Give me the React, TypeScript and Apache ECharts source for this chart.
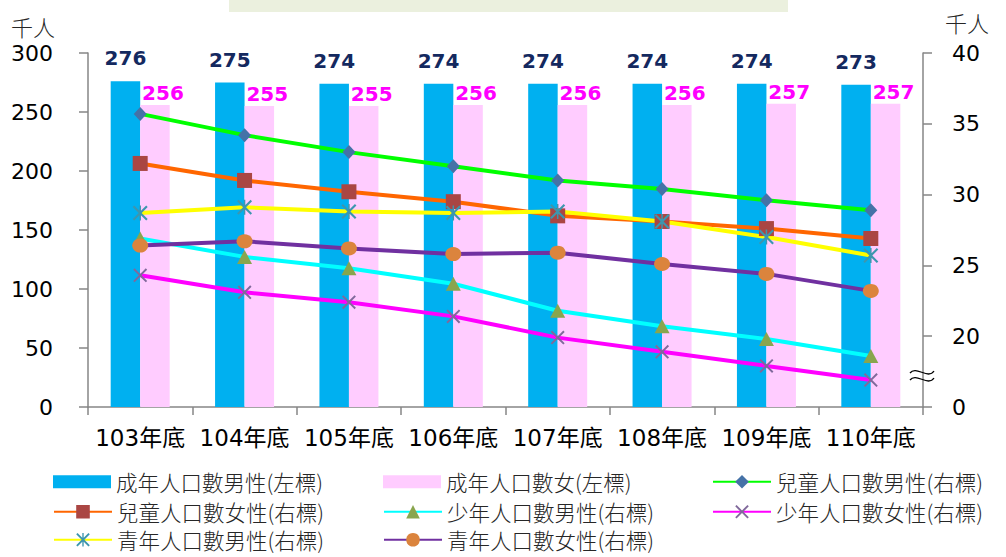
import React, { useEffect, useRef } from "react";
import * as echarts from "echarts";

const categories = ["103年底", "104年底", "105年底", "106年底", "107年底", "108年底", "109年底", "110年底"];
const adultMale = [276, 275, 274, 274, 274, 274, 274, 273];
const adultFemale = [256, 255, 255, 256, 256, 256, 257, 257];
const childMale = [35.7, 34.2, 33.0, 32.0, 31.0, 30.4, 29.6, 28.9];
const childFemale = [32.2, 31.0, 30.2, 29.5, 28.5, 28.1, 27.6, 26.9];
const teenMale = [26.9, 25.6, 24.8, 23.7, 21.8, 20.7, 19.8, 18.6];
const teenFemale = [24.3, 23.1, 22.4, 21.4, 19.9, 18.9, 17.9, 16.9];
const youthMale = [28.7, 29.1, 28.8, 28.7, 28.8, 28.1, 27.0, 25.7];
const youthFemale = [26.4, 26.7, 26.2, 25.8, 25.9, 25.1, 24.4, 23.2];
const leftTicks = { min: 0, max: 300, interval: 50 };
const rightTicks = { min: 15, max: 40, interval: 5, breakLabel: "0" };

const names = [
  "成年人口數男性(左標)",
  "成年人口數女(左標)",
  "兒童人口數男性(右標)",
  "兒童人口數女性(右標)",
  "少年人口數男性(右標)",
  "少年人口數女性(右標)",
  "青年人口數男性(右標)",
  "青年人口數女性(右標)",
];

const FONT = '"DejaVu Sans", "Noto Sans CJK TC", sans-serif';
const CJK = '"Noto Sans CJK TC", "DejaVu Sans", sans-serif';
const AXIS = "#868686";

const X_PATH = "path://M0,1 L1,0 L5,4 L9,0 L10,1 L6,5 L10,9 L9,10 L5,6 L1,10 L0,9 L4,5 Z";
const STAR_PATH =
  "path://M0,1 L1,0 L5,4 L9,0 L10,1 L6,5 L10,9 L9,10 L5,6 L1,10 L0,9 L4,5 Z M4.5,0 L5.5,0 L5.5,4 L4.5,4 Z M4.5,6 L5.5,6 L5.5,10 L4.5,10 Z";

function lineSeries(name: string, data: number[], lineColor: string, markColor: string, symbol: string, size: any) {
  return {
    name,
    type: "line",
    yAxisIndex: 1,
    data,
    symbol,
    symbolSize: size,
    lineStyle: { color: lineColor, width: 4 },
    itemStyle: { color: markColor },
    z: 3,
  };
}

function legendItem(name: string, left: number, cy: number, isBar: boolean) {
  const ih = isBar ? 13 : 17;
  return {
    data: [isBar ? { name, icon: "rect" } : { name }],
    left,
    top: cy - 10,
    padding: 0,
    itemWidth: 58,
    itemHeight: ih,
    itemGap: 0,
    selectedMode: false,
    textStyle: { fontFamily: CJK, fontSize: 21.5, fontWeight: 300, color: "#262626", lineHeight: 20 },
  };
}

export default function App() {
  const ref = useRef<HTMLDivElement>(null);
  useEffect(() => {
    const chart = echarts.init(ref.current!, null, { renderer: "svg" });
    const option: any = {
      animation: false,
      backgroundColor: "#ffffff",
      grid: { left: 88, right: 83, top: 53, bottom: 150, containLabel: false },
      legend: [
        legendItem(names[0], 53, 481, true),
        legendItem(names[1], 383, 481, true),
        legendItem(names[2], 712, 481, false),
        legendItem(names[3], 53, 511, false),
        legendItem(names[4], 383, 511, false),
        legendItem(names[5], 712, 511, false),
        legendItem(names[6], 53, 539, false),
        legendItem(names[7], 383, 539, false),
      ],
      xAxis: {
        type: "category",
        data: categories,
        axisLine: { lineStyle: { color: AXIS, width: 1.5 } },
        axisTick: { show: true, length: 8, lineStyle: { color: AXIS, width: 1.5 } },
        axisLabel: { color: "#000", fontFamily: FONT, fontSize: 23, margin: 19, interval: 0 },
      },
      yAxis: [
        {
          type: "value",
          min: leftTicks.min,
          max: leftTicks.max,
          interval: leftTicks.interval,
          splitLine: { show: false },
          axisLine: { show: true, lineStyle: { color: AXIS, width: 1.5 } },
          axisTick: { show: true, length: 9, lineStyle: { color: AXIS, width: 1.5 } },
          axisLabel: { color: "#000", fontFamily: FONT, fontSize: 22, margin: 35 },
        },
        {
          type: "value",
          min: rightTicks.min,
          max: rightTicks.max,
          interval: rightTicks.interval,
          position: "right",
          splitLine: { show: false },
          axisLine: { show: true, lineStyle: { color: AXIS, width: 1.5 } },
          axisTick: { show: true, length: 9, lineStyle: { color: AXIS, width: 1.5 } },
          axisLabel: {
            color: "#000",
            fontFamily: FONT,
            fontSize: 22,
            margin: 29,
            formatter: (v: number) => (v === rightTicks.min ? rightTicks.breakLabel : String(v)),
          },
        },
      ],
      series: [
        {
          name: names[0],
          type: "bar",
          data: adultMale,
          barWidth: 29.5,
          barGap: "0%",
          itemStyle: { color: "#00B0F0" },
          label: {
            show: true,
            position: "top",
            distance: 13,
            color: "#14295F",
            fontFamily: FONT,
            fontWeight: "bold",
            fontSize: 20,
          },
          z: 2,
        },
        {
          name: names[1],
          type: "bar",
          data: adultFemale,
          barWidth: 29.5,
          itemStyle: { color: "#FFCCFF" },
          label: {
            show: true,
            position: "top",
            distance: 2,
            offset: [8, 0],
            color: "#FF00FF",
            fontFamily: FONT,
            fontWeight: "bold",
            fontSize: 20,
          },
          z: 2,
        },
        lineSeries(names[2], childMale, "#00FF00", "#4572A7", "diamond", [13, 14]),
        lineSeries(names[3], childFemale, "#FF6600", "#AA4643", "rect", 15),
        lineSeries(names[4], teenMale, "#00FFFF", "#89A54E", "triangle", [15, 14]),
        lineSeries(names[5], teenFemale, "#FF00FF", "#80699B", X_PATH, 14),
        lineSeries(names[6], youthMale, "#FFFF00", "#3D96AE", STAR_PATH, 15),
        lineSeries(names[7], youthFemale, "#7030A0", "#DB843D", "circle", [16, 14]),
      ],
      graphic: [
        { type: "rect", left: 229, top: 0, shape: { width: 559, height: 12 }, style: { fill: "#EBF0DE" }, silent: true },
        {
          type: "text",
          left: 11,
          top: 15,
          style: { text: "千人", font: `300 22px ${CJK}`, fill: "#262626" },
        },
        {
          type: "text",
          left: 945,
          top: 11,
          style: { text: "千人", font: `300 22px ${CJK}`, fill: "#262626" },
        },
        {
          type: "bezierCurve",
          shape: { x1: 910, y1: 373, cpx1: 916, cpy1: 365, cpx2: 928, cpy2: 380, x2: 934, y2: 371 },
          style: { stroke: "#000", lineWidth: 1.3, fill: null },
          z: 10,
        },
        {
          type: "bezierCurve",
          shape: { x1: 910, y1: 380, cpx1: 916, cpy1: 372, cpx2: 928, cpy2: 387, x2: 934, y2: 378 },
          style: { stroke: "#000", lineWidth: 1.3, fill: null },
          z: 10,
        },
      ],
    };
    chart.setOption(option);
    return () => chart.dispose();
  }, []);
  return <div ref={ref} style={{ position: "fixed", left: 0, top: 0, width: 1006, height: 557 }} />;
}
